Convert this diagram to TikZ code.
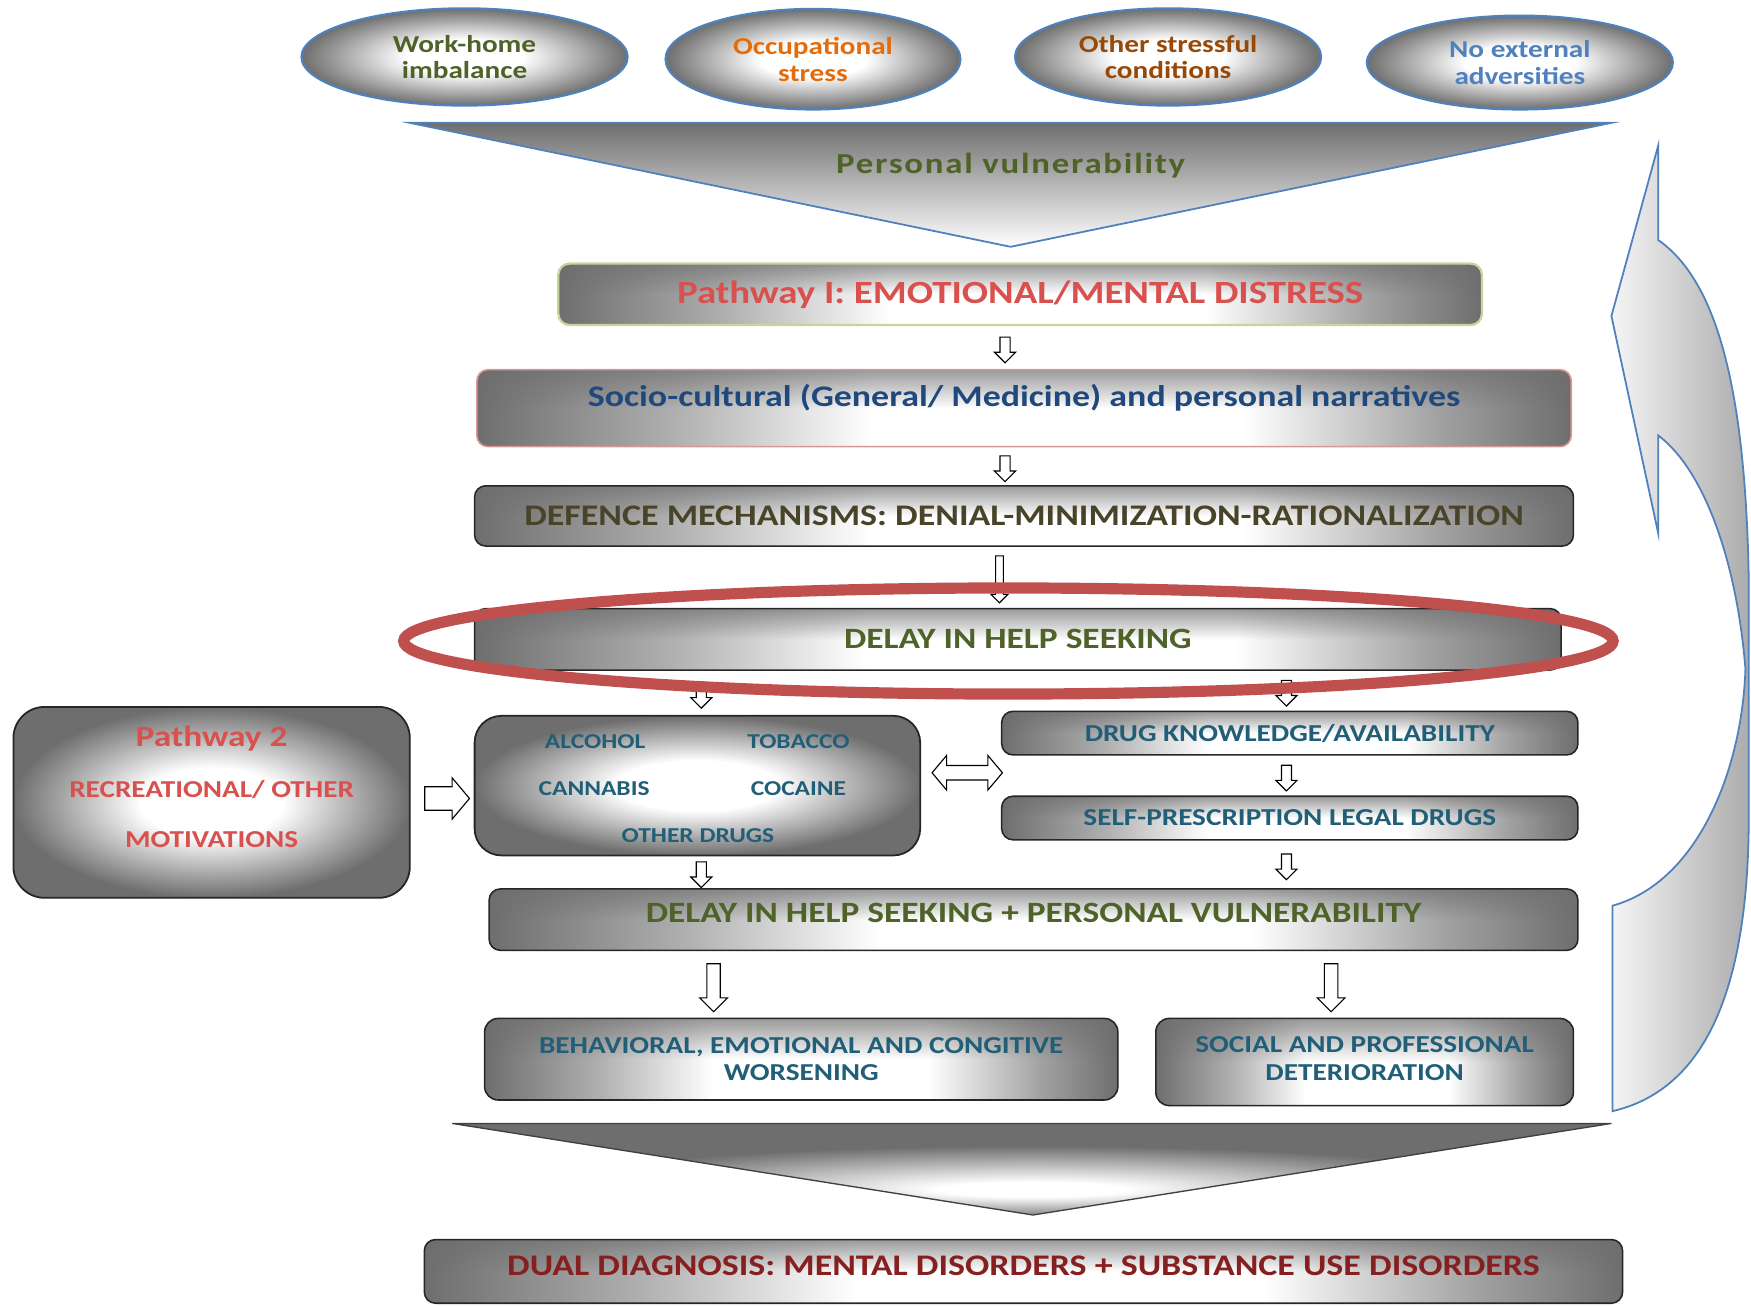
\documentclass[tikz,border=0pt]{standalone}
\usepackage{fontspec}
\setmainfont{Carlito}[FakeStretch=1.2]
\usetikzlibrary{shapes.geometric,shapes.arrows,fadings}

\definecolor{boxgray}{HTML}{6E6E6E}
\definecolor{olivetxt}{HTML}{4F6228}
\definecolor{darkolive}{HTML}{494429}
\definecolor{redtxt}{HTML}{D9514E}
\definecolor{navytxt}{HTML}{1F497D}
\definecolor{tealtxt}{HTML}{215E78}
\definecolor{orangetxt}{HTML}{E46C0A}
\definecolor{browntxt}{HTML}{984807}
\definecolor{bluetxt}{HTML}{4F81BD}
\definecolor{maroontxt}{HTML}{862020}
\definecolor{ringred}{HTML}{C0504D}
\definecolor{edgeblue}{HTML}{4F81BD}
\definecolor{greenline}{HTML}{C3D69B}
\definecolor{pinkline}{HTML}{D99694}

\pgfdeclarehorizontalshading{glassbar}{100bp}{color(0bp)=(boxgray); color(25bp)=(boxgray); color(34bp)=(boxgray!55!white); color(43bp)=(white); color(60bp)=(white); color(69bp)=(boxgray!65!white); color(75bp)=(boxgray); color(100bp)=(boxgray)}
\pgfdeclareradialshading{glow}{\pgfpoint{0bp}{0bp}}{color(0bp)=(white); color(9bp)=(white); color(25bp)=(boxgray); color(50bp)=(boxgray)}
\pgfdeclareradialshading{funnelglow}{\pgfpoint{0bp}{-12bp}}{color(0bp)=(white); color(4bp)=(white); color(20bp)=(boxgray); color(50bp)=(boxgray)}
\tikzfading[name=topshade, top color=transparent!30, bottom color=transparent!100, middle color=transparent!100]

\newcommand{\bartxt}{\fontsize{13.4}{15}\selectfont\bfseries}
\newcommand{\boxtxt}{\fontsize{10.9}{12.25}\selectfont\bfseries}
\newcommand{\cloudtxt}{\fontsize{10.9}{12}\selectfont\bfseries}
\newcommand{\subtxt}{\fontsize{9.5}{11}\selectfont\bfseries}

\begin{document}
\begin{tikzpicture}[x=0.5pt, y=-0.5pt,
  bar/.style={draw=black!85, line width=0.7pt, rounded corners=5pt, shade, shading=glassbar, inner sep=0pt, align=center,
    path picture={\fill[boxgray, path fading=topshade] (path picture bounding box.south west) rectangle (path picture bounding box.north east);}},
  cloud/.style={ellipse, draw=edgeblue, line width=1pt, shade, shading=glow, align=center, inner sep=0pt, font=\cloudtxt},
  padbox/.style={draw=black!85, line width=0.8pt, rounded corners=14pt, shade, shading=glow, inner sep=0pt, align=center},
  blockarrow/.style={single arrow, draw=black, fill=white, line width=0.5pt, single arrow head indent=0pt},
  downarrow/.style={blockarrow, shape border rotate=270, inner sep=2pt, minimum height=11.5pt, single arrow head extend=2.5pt},
  thinarrow/.style={blockarrow, shape border rotate=270, inner sep=1.5pt, minimum height=21pt, single arrow head extend=2pt},
  longarrow/.style={blockarrow, shape border rotate=270, inner sep=2.75pt, minimum height=21.5pt, single arrow head extend=3.2pt},
  sidearrow/.style={blockarrow, inner sep=5pt, minimum height=20pt, single arrow head extend=4pt, single arrow tip angle=100},
  botharrow/.style={double arrow, draw=black, fill=white, line width=0.5pt, inner sep=3pt, double arrow head indent=0pt, minimum height=31.5pt, double arrow head extend=4.5pt, double arrow tip angle=100},
]
\useasboundingbox (0,0) rectangle (1568,1169);

% stressors
\node[cloud, minimum width=146pt, minimum height=43.5pt, text=olivetxt] (workhome) at (416,51) {Work-home\\imbalance};
\node[cloud, minimum width=132pt, minimum height=45pt, text=orangetxt] (occup) at (728,53) {Occupational\\stress};
\node[cloud, minimum width=137pt, minimum height=43.5pt, text=browntxt] (otherstress) at (1046,51) {Other stressful\\conditions};
\node[cloud, minimum width=137pt, minimum height=42pt, text=bluetxt] (noadv) at (1361,56) {No external\\adversities};

% funnel into personal vulnerability
\draw[edgeblue, line width=0.8pt, top color=boxgray, bottom color=white] (367,110) -- (1443,110) -- (905,221) -- cycle;
\node[font=\fontsize{13}{15}\selectfont\bfseries\addfontfeature{LetterSpace=6}, text=olivetxt] (persvul) at (905,148) {Personal vulnerability};

% pathway 1
\node[bar, draw=greenline, line width=1pt, minimum width=413.5pt, minimum height=27.5pt, text=redtxt, font=\fontsize{14.5}{16}\selectfont\bfseries] (pone) at (913.5,263.5) {Pathway I: EMOTIONAL/MENTAL DISTRESS};
\node[bar, draw=pinkline, minimum width=490pt, minimum height=34.5pt, text depth=11pt, text=navytxt, font=\fontsize{13.4}{15}\selectfont\bfseries] (socio) at (917,365.5) {Socio-cultural (General/ Medicine) and personal narratives};
\node[bar, minimum width=492pt, minimum height=27pt, text=darkolive, font=\bartxt] (defence) at (917,462) {DEFENCE MECHANISMS: DENIAL-MINIMIZATION-RATIONALIZATION};
\node[bar, minimum width=486.5pt, minimum height=27.5pt, text=olivetxt, font=\fontsize{13.2}{15}\selectfont\bfseries] (delay) at (911.5,572.5) {DELAY IN HELP SEEKING};

% pathway 2 and substances
\node[padbox, minimum width=177.5pt, minimum height=85.5pt, text depth=14pt, text=redtxt, font=\fontsize{10.9}{22.5}\selectfont\bfseries] (ptwo) at (189.5,718.5) {{\fontsize{13.2}{22.5}\selectfont Pathway 2}\\RECREATIONAL/ OTHER\\MOTIVATIONS};
\node[padbox, rounded corners=12pt, minimum width=199.5pt, minimum height=62.5pt] (subst) at (624.5,703.5) {};
\node[text=tealtxt, font=\subtxt] (alcohol) at (533,664) {ALCOHOL};
\node[text=tealtxt, font=\subtxt] (tobacco) at (715,664) {TOBACCO};
\node[text=tealtxt, font=\subtxt] (cannabis) at (532,706) {CANNABIS};
\node[text=tealtxt, font=\subtxt] (cocaine) at (715,706) {COCAINE};
\node[text=tealtxt, font=\subtxt] (otherdrugs) at (625,748) {OTHER DRUGS};

\node[bar, minimum width=258pt, minimum height=19.5pt, text=tealtxt, font=\boxtxt] (drug) at (1155,656.5) {DRUG KNOWLEDGE/AVAILABILITY};
\node[bar, minimum width=258pt, minimum height=19.5pt, text=tealtxt, font=\boxtxt] (selfp) at (1155,732.5) {SELF-PRESCRIPTION LEGAL DRUGS};

% consequences
\node[bar, minimum width=487.5pt, minimum height=27.5pt, text depth=6pt, text=olivetxt, font=\fontsize{13.2}{15}\selectfont\bfseries] (dvuln) at (925.5,823.5) {DELAY IN HELP SEEKING + PERSONAL VULNERABILITY};
\node[bar, rounded corners=6pt, minimum width=283.5pt, minimum height=36.5pt, text=tealtxt, font=\boxtxt] (behav) at (717.5,948.5) {BEHAVIORAL, EMOTIONAL AND CONGITIVE\\WORSENING};
\node[bar, rounded corners=6pt, minimum width=187pt, minimum height=39pt, text depth=3pt, text=tealtxt, font=\boxtxt] (social) at (1222,951) {SOCIAL AND PROFESSIONAL\\DETERIORATION};

\draw[black!75, line width=0.6pt, shade, shading=funnelglow] (405,1006) -- (1443,1006) -- (925,1088) -- cycle;
\node[bar, minimum width=536.5pt, minimum height=28.5pt, text depth=5pt, text=maroontxt, font=\bartxt] (dual) at (916.5,1138.5) {DUAL DIAGNOSIS: MENTAL DISORDERS + SUBSTANCE USE DISORDERS};

% block arrows
\coordinate (xmain) at (900,0);
\coordinate (xdef) at (895,0);
\coordinate (xleft) at (628,0);
\coordinate (xright) at (1152,0);
\coordinate (xbehav) at (639,0);
\coordinate (xsocial) at (1192,0);
\coordinate (yside) at (0,715);
\coordinate (ydbl) at (0,692);
\coordinate (xdbl) at (836,0);
\path (pone.south -| xmain) -- node[downarrow] (a1) {} (socio.north -| xmain);
\path (socio.south -| xmain) -- node[downarrow] (a2) {} (defence.north -| xmain);
\path (defence.south -| xdef) -- node[thinarrow] (a3) {} (delay.north -| xdef);
\path (delay.south -| xleft) -- node[downarrow] (a4) {} (subst.north -| xleft);
\path (delay.south -| xright) -- node[downarrow] (a5) {} (drug.north -| xright);
\path (drug.south -| xright) -- node[downarrow] (a6) {} (selfp.north -| xright);
\path (subst.south -| xleft) -- node[downarrow] (a7) {} (dvuln.north -| xleft);
\path (selfp.south -| xright) -- node[downarrow] (a8) {} (dvuln.north -| xright);
\path (dvuln.south -| xbehav) -- node[longarrow] (a9) {} (behav.north -| xbehav);
\path (dvuln.south -| xsocial) -- node[longarrow] (a10) {} (social.north -| xsocial);
\path (ptwo.east |- yside) -- node[sidearrow] (a11) {} (subst.west |- yside);
\path (xdbl |- ydbl) -- node[botharrow] (a12) {} (drug.west |- ydbl);

% highlight ring
\node[ellipse, draw=ringred, line width=5pt, minimum width=541.5pt, minimum height=47.5pt, inner sep=0pt] (ring) at (903,574) {};

% feedback arrow
\draw[edgeblue, line width=0.8pt, left color=white!92!gray, right color=gray!65]
  (1444,995) .. controls (1530,975) and (1566,880) .. (1566,730)
  -- (1566,520) .. controls (1563,340) and (1535,250) .. (1485,215)
  -- (1485,130) -- (1443,283) -- (1485,478) -- (1485,390)
  .. controls (1525,420) and (1555,500) .. (1563,599)
  .. controls (1560,690) and (1520,790) .. (1444,811) -- cycle;
\end{tikzpicture}
\end{document}
